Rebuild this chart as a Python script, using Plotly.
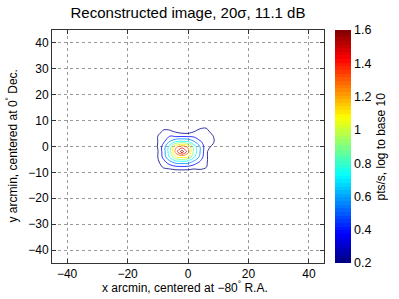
import plotly.graph_objects as go

# ---- data (log10 pts/s) ----
x_arcmin = [-12, -10, -8, -6, -4, -2, 0, 2, 4, 6, 8, 10]
y_arcmin = [-12, -10, -8, -6, -4, -2, 0, 2, 4, 6, 8]
z_rows = [
    [0.02, 0.04, 0.06, 0.07, 0.08, 0.08, 0.08, 0.07, 0.06, 0.05, 0.04, 0.02],  # y=-12
    [0.04, 0.09, 0.14, 0.18, 0.20, 0.20, 0.20, 0.18, 0.22, 0.14, 0.08, 0.04],  # y=-10
    [0.07, 0.20, 0.33, 0.36, 0.40, 0.41, 0.40, 0.36, 0.36, 0.31, 0.15, 0.07],  # y=-8
    [0.10, 0.27, 0.40, 0.55, 0.67, 0.68, 0.67, 0.55, 0.43, 0.33, 0.18, 0.08],  # y=-6
    [0.12, 0.30, 0.51, 0.78, 1.05, 1.10, 1.05, 0.78, 0.56, 0.33, 0.20, 0.10],  # y=-4
    [0.12, 0.29, 0.53, 0.85, 1.27, 1.58, 1.27, 0.85, 0.60, 0.33, 0.20, 0.10],  # y=-2
    [0.12, 0.31, 0.53, 0.82, 1.17, 1.26, 1.17, 0.82, 0.59, 0.36, 0.28, 0.12],  # y=0
    [0.12, 0.30, 0.42, 0.60, 0.73, 0.75, 0.73, 0.60, 0.46, 0.40, 0.35, 0.20],  # y=2
    [0.10, 0.30, 0.42, 0.45, 0.42, 0.43, 0.42, 0.42, 0.38, 0.38, 0.33, 0.15],  # y=4
    [0.05, 0.20, 0.33, 0.32, 0.26, 0.20, 0.20, 0.28, 0.36, 0.37, 0.22, 0.08],  # y=6
    [0.02, 0.08, 0.20, 0.20, 0.10, 0.10, 0.10, 0.12, 0.22, 0.24, 0.10, 0.03],  # y=8
]
contour_start, contour_end, contour_step = 0.3, 1.5, 0.15
c_min, c_max = 0.2, 1.6

x_ticks = [-40, -20, 0, 20, 40]
y_ticks = [-40, -30, -20, -10, 0, 10, 20, 30, 40]
cb_ticks = [0.2, 0.4, 0.6, 0.8, 1.0, 1.2, 1.4, 1.6]
cb_labels = ["0.2", "0.4", "0.6", "0.8", "1", "1.2", "1.4", "1.6"]

title_text = "Reconstructed image, 20σ, 11.1 dB"
x_title = "x arcmin, centered at \u221280<sup>°</sup> R.A."
y_title = "y arcmin, centered at 0<sup>°</sup> Dec."
cb_title = "pts/s, log to base 10"


# ---- MATLAB-style 64-step jet colormap ----
def _clip(v):
    return max(0.0, min(1.0, v))


def jet_rgb(t):
    r = _clip(1.5 - abs(4 * t - 3))
    g = _clip(1.5 - abs(4 * t - 2))
    b = _clip(1.5 - abs(4 * t - 1))
    return "rgb(%d,%d,%d)" % (round(r * 255), round(g * 255), round(b * 255))


N = 64
jet_scale = []
for i in range(N):
    col = jet_rgb((i + 0.5) / N)
    jet_scale.append([i / N, col])
    jet_scale.append([(i + 1) / N, col])

FONT = "Liberation Sans, Arial, Helvetica, sans-serif"
AX = "#333333"
W, H = 399, 299
ML, MR, MT, MB = 52, 75, 30, 36
PW = W - ML - MR
PH = H - MT - MB

fig = go.Figure()
fig.add_trace(go.Contour(
    x=x_arcmin, y=y_arcmin, z=z_rows,
    zmin=c_min, zmax=c_max, zauto=False,
    colorscale=jet_scale,
    contours=dict(coloring="lines", start=contour_start, end=contour_end,
                  size=contour_step, showlabels=False),
    line=dict(width=0.8, smoothing=1),
    showscale=False,
    hoverinfo="skip",
))

fig.add_trace(go.Scatter(
    x=[None], y=[None], mode="markers", showlegend=False, hoverinfo="skip",
    marker=dict(
        color=[c_min], cmin=c_min, cmax=c_max, colorscale=jet_scale,
        showscale=True,
        colorbar=dict(
            x=(335 - ML) / PW, xanchor="left", xpad=0,
            y=0.5, yanchor="middle", len=1, lenmode="fraction", ypad=0,
            thickness=16, outlinewidth=0,
            tickvals=cb_ticks, ticktext=cb_labels, ticks="",
            tickfont=dict(family=FONT, size=12.5, color="#000"),
        ),
    ),
))

axis_common = dict(
    showgrid=True, gridcolor="#9a9a9a", gridwidth=1, griddash="3px,3px",
    zeroline=False, showline=True, linecolor=AX, linewidth=1, mirror="ticks",
    ticks="inside", ticklen=4, tickcolor=AX, automargin=False,
    tickfont=dict(family=FONT, size=12, color="#000"),
)

lab_font = dict(family=FONT, size=12, color="#000")

fig.update_layout(
    width=W, height=H,
    margin=dict(l=ML, r=MR, t=MT, b=MB, autoexpand=False),
    paper_bgcolor="white", plot_bgcolor="white",
    font=dict(family=FONT, color="#000"),
    showlegend=False,
    title=dict(text=title_text, x=0.5, xref="paper", xanchor="center",
               y=1 - 13 / H, yref="container", yanchor="middle",
               font=dict(family=FONT, size=15, color="#000")),
    xaxis=dict(range=[-45, 45], tickvals=x_ticks, **axis_common),
    yaxis=dict(range=[-45, 45], tickvals=y_ticks, **axis_common),
    annotations=[
        dict(text=x_title, showarrow=False, xref="paper", yref="paper",
             x=(185 - ML) / PW, y=-(287 - (H - MB)) / PH,
             xanchor="center", yanchor="middle", font=lab_font, borderpad=0),
        dict(text=y_title, textangle=-90, showarrow=False,
             xref="paper", yref="paper", x=-(ML - 11) / PW, y=0.5,
             xanchor="center", yanchor="middle", font=lab_font, borderpad=0),
        dict(text=cb_title, textangle=-90, showarrow=False,
             xref="paper", yref="paper", x=(380 - ML) / PW, y=0.5,
             xanchor="center", yanchor="middle", font=lab_font, borderpad=0),
    ],
)

fig.write_html(
    "out.html",
    config={"displayModeBar": False, "staticPlot": True},
    post_script="document.body.style.margin='0';document.body.style.padding='0';",
)
